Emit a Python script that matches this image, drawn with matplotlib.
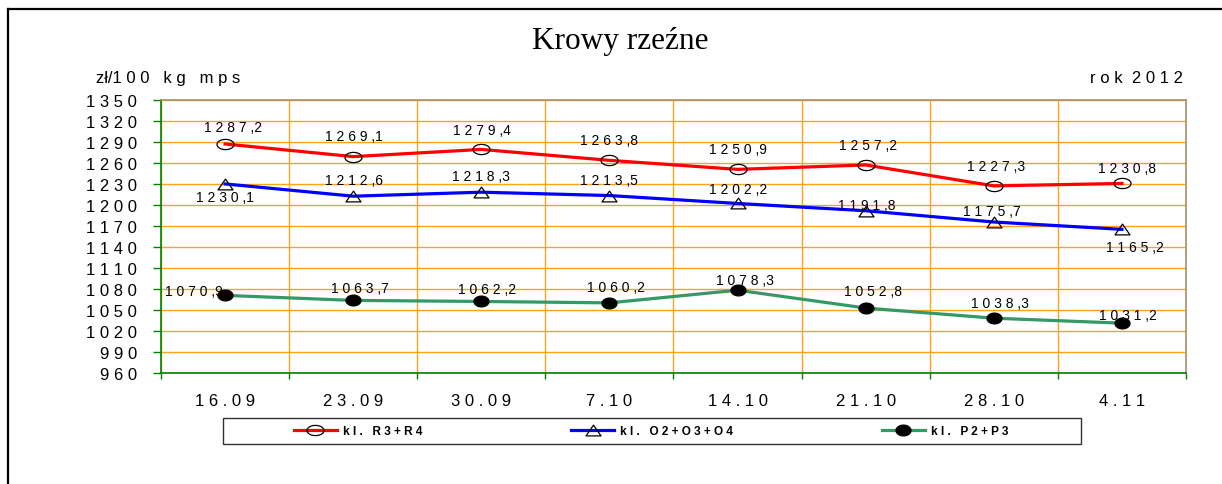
import matplotlib
matplotlib.use("Agg")
import matplotlib.pyplot as plt
import numpy as np
from matplotlib.path import Path
from matplotlib.lines import Line2D
from matplotlib.patches import Rectangle

# ---------------- data ----------------
categories = ["16.09", "23.09", "30.09", "7.10", "14.10", "21.10", "28.10", "4.11"]
r3r4 = [1287.2, 1269.1, 1279.4, 1263.8, 1250.9, 1257.2, 1227.3, 1230.8]
o2o3o4 = [1230.1, 1212.6, 1218.3, 1213.5, 1202.2, 1191.8, 1175.7, 1165.2]
p2p3 = [1070.9, 1063.7, 1062.2, 1060.2, 1078.3, 1052.8, 1038.3, 1031.2]
series_names = ["kl. R3+R4", "kl. O2+O3+O4", "kl. P2+P3"]
yticks = list(range(960, 1351, 30))

title = "Krowy rzeźne"
unit_label = "zł/1 0 0   k g   m p s"
year_label = "r o k  2 0 1 2"

# --------------- style ----------------
W, H = 1222, 485
DPI = 100
SANS = ["Liberation Sans", "DejaVu Sans"]
SERIF = ["Liberation Serif", "DejaVu Serif"]
plt.rcParams["font.family"] = SANS

def spaced(s):
    """imitate the wide character spacing of the original"""
    return " ".join(s)

def spaced_num(v):
    s = f"{v:.1f}".replace(".", ",")
    a, b = s.split(",")
    return " ".join(a) + " ," + b

px = 72.0 / DPI  # points per pixel

# label offsets in pixels (dx, dy up)
r_off = [(8, 17), (1, 21), (1, 19), (0, 20), (0, 20), (2, 20), (2, 20), (5, 15)]
o_off = [(0, -13), (1, 16), (0, 16), (0, 16), (1, 14), (1, 6), (-2, 11), (13, -18)]
p_off = [(-31, 4), (7, 12), (6, 12), (7, 16), (7, 10), (7, 17), (6, 15), (6, 8)]

# custom markers (Excel-like stretched shapes)
t = np.linspace(0, 2 * np.pi, 60)
ellipse = Path(np.column_stack([np.cos(t), 0.6 * np.sin(t)]), closed=True)
ellipse_f = Path(np.column_stack([np.cos(t), 0.72 * np.sin(t)]), closed=True)
tri = Path([(0, 0.72), (-1, -0.72), (1, -0.72), (0, 0.72)], closed=True)

fig = plt.figure(figsize=(W / DPI, H / DPI), dpi=DPI)
ax = fig.add_axes([161 / W, 1 - 374 / H, (1186 - 161) / W, (374 - 101) / H])

x = np.arange(len(categories))
l1, = ax.plot(x, r3r4, color="#FF0000", lw=2.3, marker=ellipse, ms=17 * px,
              mfc="none", mec="black", mew=0.9, zorder=4, label=spaced(series_names[0]))
l2, = ax.plot(x, o2o3o4, color="#0000FF", lw=2.3, marker=tri, ms=15 * px,
              mfc="none", mec="black", mew=0.9, zorder=4, label=spaced(series_names[1]))
l3, = ax.plot(x, p2p3, color="#339966", lw=2.3, marker=ellipse_f, ms=15 * px,
              mfc="black", mec="black", mew=0.9, zorder=4, label=spaced(series_names[2]))

for vals, offs in ((r3r4, r_off), (o2o3o4, o_off), (p2p3, p_off)):
    for i, (v, (dx, dy)) in enumerate(zip(vals, offs)):
        ax.annotate(spaced_num(v), (x[i], v), xytext=(dx * px, dy * px),
                    textcoords="offset points", ha="center", va="center",
                    fontsize=10, color="black", zorder=5)

ax.set_xlim(-0.5, len(categories) - 0.5)
ax.set_ylim(960, 1350)
ax.set_yticks(yticks)
ax.set_yticklabels([spaced(str(v)) for v in yticks])
ax.set_xticks(np.arange(-0.5, len(categories), 1.0))
ax.set_xticklabels([])
ax.set_xticks(x, minor=True)
ax.set_xticklabels([spaced(c) for c in categories], minor=True)

ax.tick_params(axis="y", which="major", direction="out", length=8 * px,
               color="#008000", width=1, labelsize=12, pad=16 * px)
ax.tick_params(axis="x", which="major", direction="out", length=6 * px,
               color="#008000", width=1)
ax.tick_params(axis="x", which="minor", length=0, labelsize=12, pad=20 * px)

ax.grid(True, which="major", axis="both", color="#FFA31A", lw=1.0, zorder=1)
ax.set_axisbelow(True)

for side in ("left", "bottom"):
    ax.spines[side].set_color("#008000")
    ax.spines[side].set_linewidth(1.2)
for side in ("top", "right"):
    ax.spines[side].set_color("#A88F6A")
    ax.spines[side].set_linewidth(1.2)

# texts
fig.text(620 / W, 1 - 49 / H, title, ha="center", va="baseline",
         fontsize=22.5, family=SERIF)
fig.text(96 / W, 1 - 83 / H, unit_label, ha="left", va="baseline", fontsize=12)
fig.text(1183 / W, 1 - 83 / H, year_label, ha="right", va="baseline", fontsize=12)

# legend box + entries
fig.add_artist(Rectangle((223 / W, 1 - 445 / H), (1081 - 223) / W, 26 / H,
                         transform=fig.transFigure, fill=False, ec="#333333", lw=1.0))
for line, cx in ((l1, 358), (l2, 652), (l3, 945)):
    fig.legend(handles=[line], loc="center", bbox_to_anchor=(cx / W, 1 - 432 / H),
               frameon=False, handlelength=3.6, handletextpad=0.5,
               prop={"weight": "bold", "size": 8.5, "family": SANS}, borderpad=0,
               borderaxespad=0)

# outer border (left + top)
fig.add_artist(Line2D([8 / W, 8 / W], [0, 1 - 10 / H], transform=fig.transFigure,
                      color="black", lw=1.6))
fig.add_artist(Line2D([8 / W, 1], [1 - 10 / H, 1 - 10 / H], transform=fig.transFigure,
                      color="black", lw=1.6))

fig.savefig("out.png", dpi=DPI)
